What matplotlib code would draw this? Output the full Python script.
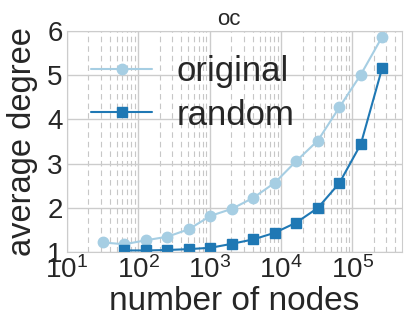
import matplotlib
matplotlib.use("Agg")
import matplotlib.pyplot as plt
import seaborn as sns
from matplotlib.ticker import LogLocator

sns.set_style("whitegrid")
plt.rcParams['font.family'] = ['Liberation Sans', 'DejaVu Sans']
plt.rcParams['mathtext.fontset'] = 'custom'
plt.rcParams['mathtext.rm'] = 'Liberation Sans'
plt.rcParams['mathtext.it'] = 'Liberation Sans'
plt.rcParams['mathtext.bf'] = 'Liberation Sans'

title = "oc"
x_original = [32, 64, 128, 256, 512, 1024, 2048, 4096, 8192, 16384, 32768, 65536, 131072, 262144]
y_original = [1.22, 1.18, 1.27, 1.35, 1.52, 1.82, 1.98, 2.23, 2.57, 3.06, 3.52, 4.27, 5.01, 5.87]
x_random = [64, 128, 256, 512, 1024, 2048, 4096, 8192, 16384, 32768, 65536, 131072, 262144]
y_random = [1.04, 1.04, 1.05, 1.07, 1.10, 1.19, 1.29, 1.44, 1.67, 2.00, 2.56, 3.44, 5.17]

fig = plt.figure(figsize=(4.08, 3.31), dpi=100)
ax = fig.add_axes([0.164, 0.238, 0.821, 0.669])

ax.plot(x_original, y_original, '-o', color='#a6cee3', lw=1.5, ms=7.5, label='original')
ax.plot(x_random, y_random, '-s', color='#1f78b4', lw=1.5, ms=6.8, label='random')

ax.set_xscale('log')
ax.set_xlim(10, 4.93e5)
ax.set_ylim(1, 6)
ax.set_yticks([1, 2, 3, 4, 5, 6])
ax.xaxis.set_major_locator(LogLocator(base=10, numticks=10))
ax.xaxis.set_minor_locator(LogLocator(base=10, subs=range(2, 10), numticks=20))
ax.grid(True, which='major', color='0.8', lw=1.0)
ax.grid(True, which='minor', axis='x', color='0.78', lw=0.8, linestyle=(0, (5, 3.6)))
ax.tick_params(axis='both', which='major', labelsize=20, length=0, pad=3)
ax.tick_params(axis='both', which='minor', length=0)
for s in ax.spines.values():
    s.set_color('0.8')

ax.set_xlabel('number of nodes', fontsize=24, labelpad=1)
ax.set_ylabel('average degree', fontsize=23.5, labelpad=7)
ax.set_title(title, fontsize=16, pad=4, x=0.485)
ax.legend(loc='upper left', fontsize=25, frameon=False, handlelength=1.75,
          handletextpad=0.7, numpoints=1, borderaxespad=0.3, labelspacing=0.3)

fig.savefig('out.png', dpi=100)
